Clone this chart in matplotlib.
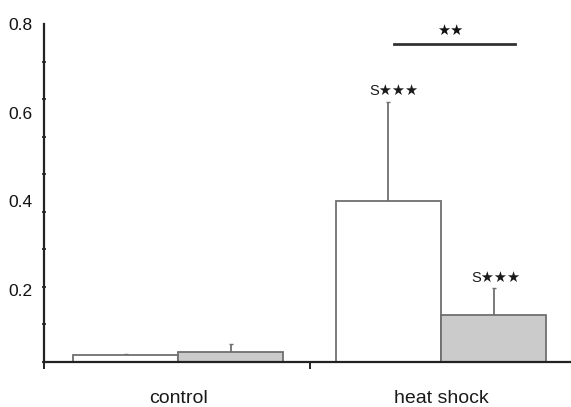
import numpy as np
import matplotlib
matplotlib.use("Agg")
import matplotlib.pyplot as plt

plt.rcParams['font.family'] = ['Liberation Sans', 'DejaVu Sans']

# data
groups = ["control", "heat shock"]
white_vals = [0.054, 0.40]
white_err = [0.003, 0.225]
gray_vals = [0.061, 0.143]
gray_err = [0.017, 0.061]
white_marks = ["", "S★★★"]
gray_marks = ["", "S★★★"]
ytick_vals = [0.2, 0.4, 0.6, 0.8]
y_bottom = 0.038
y_top = 0.8

fig = plt.figure(figsize=(5.71, 4.07), dpi=100)
ax = fig.add_axes([44 / 571, 45 / 407, 1 - 44 / 571, 338 / 407])

x = np.arange(len(groups))
w = 0.4
edge = "#707070"
ax.bar(x - w / 2, white_vals, w, color="white", edgecolor=edge, linewidth=1.3, zorder=2)
ax.bar(x + w / 2, gray_vals, w, color="#cbcbcb", edgecolor=edge, linewidth=1.3, zorder=2)

# upper error bars only
ax.errorbar(x - w / 2, white_vals, yerr=[np.zeros(2), white_err], fmt="none",
            ecolor=edge, elinewidth=1.3, capsize=1.5, zorder=1)
ax.errorbar(x + w / 2, gray_vals, yerr=[np.zeros(2), gray_err], fmt="none",
            ecolor=edge, elinewidth=1.3, capsize=1.5, zorder=1)

for i in range(len(groups)):
    if white_marks[i]:
        ax.text(x[i] - w / 2 + 0.02, white_vals[i] + white_err[i] + 0.008, white_marks[i],
                ha="center", va="bottom", fontsize=10.5, color="#1a1a1a")
    if gray_marks[i]:
        ax.text(x[i] + w / 2 + 0.01, gray_vals[i] + gray_err[i] + 0.008, gray_marks[i],
                ha="center", va="bottom", fontsize=10.5, color="#1a1a1a")

# significance bracket between heat shock bars
ax.plot([0.82, 1.28], [0.755, 0.755], color="#333333", linewidth=2, clip_on=False)
ax.text(1.034, 0.768, "★★", ha="center", va="bottom", fontsize=10.5,
        family="DejaVu Sans", color="#111111")

ax.set_xlim(-0.51, 1.494)
ax.set_ylim(y_bottom, y_top)

for s in ["top", "right"]:
    ax.spines[s].set_visible(False)
for s in ["left", "bottom"]:
    ax.spines[s].set_linewidth(1.6)
    ax.spines[s].set_color("#222222")

ax.set_yticks(ytick_vals)
ax.set_yticklabels([f"{v:.1f}" for v in ytick_vals], fontsize=12.5, color="#111111")
ax.tick_params(axis="y", which="major", length=0, pad=8)
ax.set_yticks(np.linspace(y_bottom, y_top, 10), minor=True)
ax.tick_params(axis="y", which="minor", length=3, width=1.2, direction="inout", color="#222222")

ax.set_xticks([-0.51, 0.5])
ax.set_xticklabels([])
ax.tick_params(axis="x", which="major", length=5, width=1.4, direction="out", color="#222222")
for i, g in enumerate(groups):
    ax.text(x[i], y_bottom - 0.082, g, ha="center", va="center", fontsize=14,
            color="#1a1a1a", clip_on=False)

fig.savefig("out.png", dpi=100)
